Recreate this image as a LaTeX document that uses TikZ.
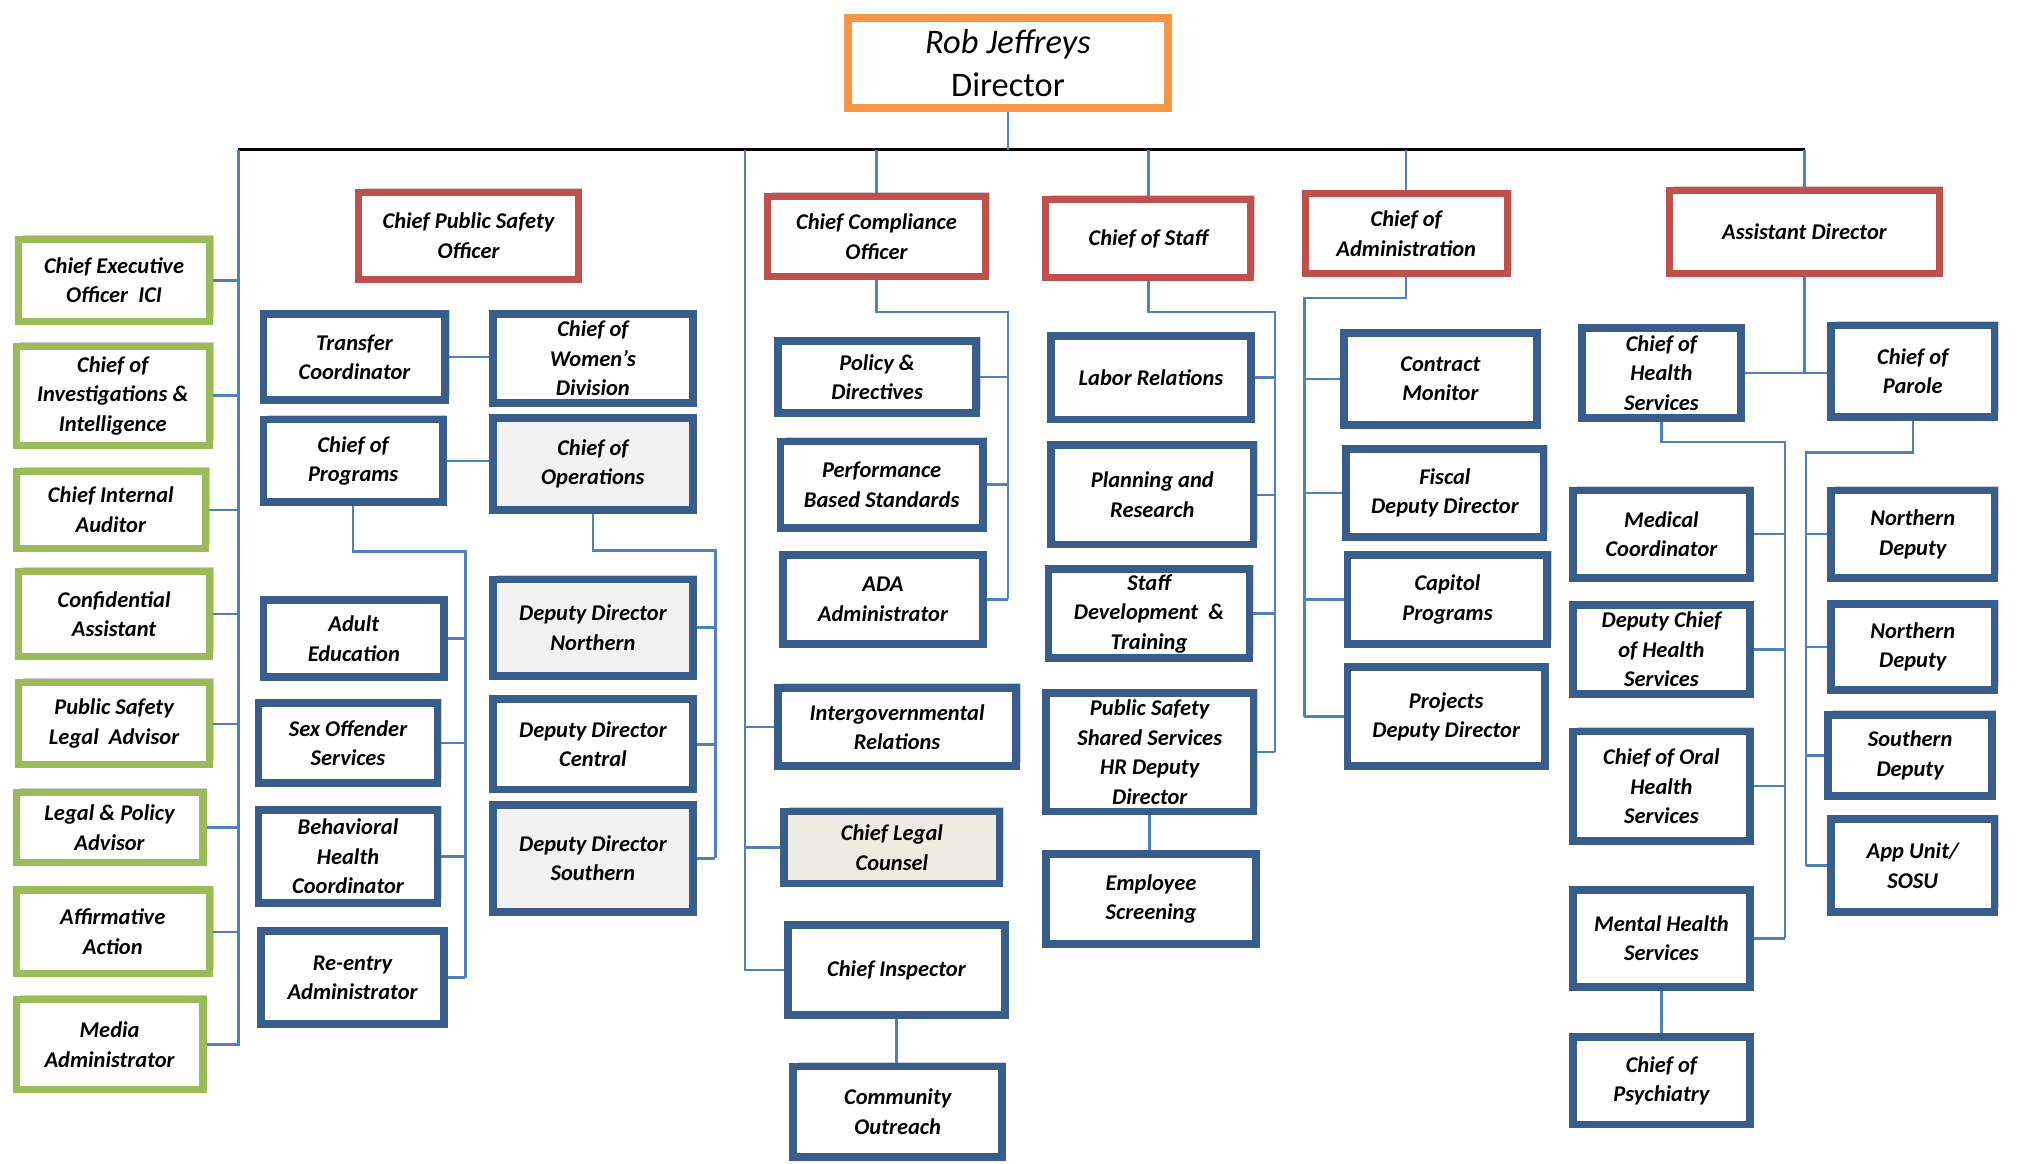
\documentclass[tikz,border=0pt]{standalone}
\usepackage{fontspec}
\setmainfont{Carlito}
\usetikzlibrary{shadows}

\definecolor{boxblue}{HTML}{385D8A}
\definecolor{boxred}{HTML}{C0504D}
\definecolor{boxgreen}{HTML}{9BBB59}
\definecolor{boxorange}{HTML}{F79646}
\definecolor{linkblue}{HTML}{4F81BD}
\definecolor{opsgray}{HTML}{F2F2F2}
\definecolor{legalbeige}{HTML}{EEECE1}

\newdimen\unitpx
\unitpx=0.012889cm

\begin{document}
\begin{tikzpicture} [x = 0.012889cm, y = -0.012889cm,
  box/.style = {draw, fill = white, line width = 2.2pt, align = center, inner sep = 1pt,
    font = \bfseries\itshape\fontsize{6.4}{8.4}\selectfont,
    drop shadow = {shadow xshift = 1.2pt, shadow yshift = 1.2pt, opacity = .35, fill = black!55}},
  bluebox/.style = {box, draw = boxblue},
  redbox/.style = {box, draw = boxred, line width = 2pt},
  greenbox/.style = {box, draw = boxgreen, line width = 2pt},
  sz/.style 2 args = {minimum width = #1\unitpx, minimum height = #2\unitpx},
  link/.style = {draw = linkblue, line width = 0.7pt},
  bar/.style = {draw = black, line width = 1.1pt}]
\useasboundingbox (0,0) rectangle (1568,903);

\node[box, draw = boxorange, sz = {248}{70}, font = \fontsize{9.8}{12}\selectfont] (dir) at (782,49) {\textit{Rob Jeffreys}\\Director};

\node[redbox, sz = {170}{67}] (cpso) at (363.5,183) {Chief Public Safety\\Officer};
\node[redbox, sz = {169}{62}] (cco) at (680,183.5) {Chief Compliance\\Officer};
\node[redbox, sz = {159}{61}] (cos) at (891,185) {Chief of Staff};
\node[redbox, sz = {157}{62}] (coa) at (1091,181.5) {Chief of\\Administration};
\node[redbox, sz = {209}{65}] (ad) at (1400,180) {Assistant Director};

\node[greenbox, sz = {148}{64}] (ceo) at (88.5,217.5) {Chief Executive\\Officer\ \ ICI};
\node[greenbox, sz = {150}{77}] (cii) at (87.5,307) {Chief of\\Investigations \&\\Intelligence};
\node[greenbox, sz = {147}{60}] (cia) at (86,395.5) {Chief Internal\\Auditor};
\node[greenbox, sz = {148}{66}] (ca) at (88.5,476.5) {Confidential\\Assistant};
\node[greenbox, sz = {148}{64}] (psla) at (88.5,561.5) {Public Safety\\Legal\ \ Advisor};
\node[greenbox, sz = {145}{55}] (lpa) at (85,642) {Legal \& Policy\\Advisor};
\node[greenbox, sz = {150}{65}] (aa) at (87.5,723) {Affirmative\\Action};
\node[greenbox, sz = {145}{70}] (media) at (85,810.5) {Media\\Administrator};

\node[bluebox, sz = {141}{67}] (transfer) at (275,277) {Transfer\\Coordinator};
\node[bluebox, sz = {139}{64}] (programs) at (274,357.5) {Chief of\\Programs};
\node[bluebox, sz = {140}{60}] (adulted) at (274.5,495.5) {Adult\\Education};
\node[bluebox, sz = {139}{62}] (sexoff) at (270,576.5) {Sex Offender\\Services};
\node[bluebox, sz = {139}{72}] (behav) at (270,664.5) {Behavioral\\Health\\Coordinator};
\node[bluebox, sz = {142}{72}] (reentry) at (273.5,758.5) {Re-entry\\Administrator};

\node[bluebox, sz = {155}{69}] (women) at (460,278) {Chief of\\Women’s\\Division};
\node[bluebox, sz = {155}{71}, fill = opsgray] (ops) at (460,360) {Chief of\\Operations};
\node[bluebox, sz = {155}{75}, fill = opsgray] (ddnorth) at (460,487) {Deputy Director\\Northern};
\node[bluebox, sz = {155}{70}] (ddcentral) at (460,577.5) {Deputy Director\\Central};
\node[bluebox, sz = {155}{83}, fill = opsgray] (ddsouth) at (460,666) {Deputy Director\\Southern};

\node[bluebox, sz = {154}{56}] (policy) at (680.5,292.5) {Policy \&\\Directives};
\node[bluebox, sz = {157}{67}] (pbs) at (684,376) {Performance\\Based Standards};
\node[bluebox, sz = {155}{69}] (ada) at (685,465) {ADA\\Administrator};
\node[bluebox, sz = {185}{61}] (intergov) at (696,564) {Intergovernmental\\Relations};
\node[bluebox, sz = {167}{56}, fill = legalbeige] (legal) at (692,657.5) {Chief Legal\\Counsel};
\node[bluebox, sz = {168}{70}] (inspector) at (695.5,752.5) {Chief Inspector};
\node[bluebox, sz = {162}{70}] (outreach) at (696.5,862.5) {Community\\Outreach};

\node[bluebox, sz = {155}{65}] (labor) at (893,293) {Labor Relations};
\node[bluebox, sz = {157}{77}] (planning) at (894,384) {Planning and\\Research};
\node[bluebox, sz = {156}{69}] (staffdev) at (891.5,476) {Staff\\Development\ \ \&\\Training};
\node[bluebox, sz = {161}{92}] (psss) at (892,583.5) {Public Safety\\Shared Services\\HR Deputy\\Director};
\node[bluebox, sz = {163}{70}] (screening) at (893,697.5) {Employee\\Screening};

\node[bluebox, sz = {150}{71}] (contract) at (1117.5,294) {Contract\\Monitor};
\node[bluebox, sz = {153}{68}] (fiscal) at (1121,382.5) {Fiscal\\Deputy Director};
\node[bluebox, sz = {155}{69}] (capitol) at (1123,465) {Capitol\\Programs};
\node[bluebox, sz = {153}{77}] (projects) at (1122,556) {Projects\\Deputy Director};

\node[bluebox, sz = {123}{70}] (chs) at (1289,289.5) {Chief of\\Health\\Services};
\node[bluebox, sz = {137}{68}] (medical) at (1289,414.5) {Medical\\Coordinator};
\node[bluebox, sz = {137}{69}] (dchs) at (1289,504) {Deputy Chief\\of Health\\Services};
\node[bluebox, sz = {137}{85}] (oral) at (1289,610) {Chief of Oral\\Health\\Services};
\node[bluebox, sz = {137}{75}] (mental) at (1289,728) {Mental Health\\Services};
\node[bluebox, sz = {137}{68}] (psych) at (1289,838.5) {Chief of\\Psychiatry};

\node[bluebox, sz = {127}{71}] (parole) at (1484,288) {Chief of\\Parole};
\node[bluebox, sz = {127}{68}] (northa) at (1484,414.5) {Northern\\Deputy};
\node[bluebox, sz = {127}{67}] (northb) at (1484,502) {Northern\\Deputy};
\node[bluebox, sz = {127}{63}] (south) at (1482,586) {Southern\\Deputy};
\node[bluebox, sz = {127}{72}] (appunit) at (1484,671.5) {App Unit/\\SOSU};

\coordinate (busL) at (185,116);
\coordinate (busR) at (1400,116);
\coordinate (compL) at (578,116);
\coordinate (ccoR) at (782,242);
\coordinate (progR) at (361,428);
\coordinate (opsR) at (555,427);
\coordinate (cosR) at (989,242);
\coordinate (coaL) at (1012,231);
\coordinate (chsR) at (1385,343);
\coordinate (paroleL) at (1401,351);

\draw[bar] (busL) -- (busR);
\draw[link] (dir.south) -- (dir.south |- busL);
\draw[link] (cco.north) -- (cco.north |- busL);
\draw[link] (cos.north) -- (cos.north |- busL);
\draw[link] (coa.north) -- (coa.north |- busL);
\draw[link] (ad.north) -- (ad.north |- busL);

\draw[link] (busL) |- (media.east);
\draw[link] (ceo.east) -- (ceo.east -| busL);
\draw[link] (cii.east) -- (cii.east -| busL);
\draw[link] (cia.east) -- (cia.east -| busL);
\draw[link] (ca.east) -- (ca.east -| busL);
\draw[link] (psla.east) -- (psla.east -| busL);
\draw[link] (lpa.east) -- (lpa.east -| busL);
\draw[link] (aa.east) -- (aa.east -| busL);

\draw[link] (transfer.east) -- (transfer.east -| women.west);
\draw[link] (programs.east) -- (programs.east -| ops.west);
\draw[link] (programs.south) |- (progR) -- (progR |- reentry.east);
\draw[link] (adulted.east) -- (adulted.east -| progR);
\draw[link] (sexoff.east) -- (sexoff.east -| progR);
\draw[link] (behav.east) -- (behav.east -| progR);
\draw[link] (reentry.east) -- (reentry.east -| progR);
\draw[link] (ops.south) |- (opsR) -- (opsR |- ddsouth.east);
\draw[link] (ddnorth.east) -- (ddnorth.east -| opsR);
\draw[link] (ddcentral.east) -- (ddcentral.east -| opsR);
\draw[link] (ddsouth.east) -- (ddsouth.east -| opsR);

\draw[link] (cco.south) |- (ccoR) -- (ccoR |- ada.east);
\draw[link] (policy.east) -- (policy.east -| ccoR);
\draw[link] (pbs.east) -- (pbs.east -| ccoR);
\draw[link] (ada.east) -- (ada.east -| ccoR);
\draw[link] (compL) |- (inspector.west);
\draw[link] (intergov.west) -- (intergov.west -| compL);
\draw[link] (legal.west) -- (legal.west -| compL);
\draw[link] (inspector.south) -- (inspector.south |- outreach.north);

\draw[link] (cos.south) |- (cosR) -- (cosR |- psss.east);
\draw[link] (labor.east) -- (labor.east -| cosR);
\draw[link] (planning.east) -- (planning.east -| cosR);
\draw[link] (staffdev.east) -- (staffdev.east -| cosR);
\draw[link] (psss.east) -- (psss.east -| cosR);
\draw[link] (psss.south) -- (psss.south |- screening.north);

\draw[link] (coa.south) |- (coaL) -- (coaL |- projects.west);
\draw[link] (contract.west) -- (contract.west -| coaL);
\draw[link] (fiscal.west) -- (fiscal.west -| coaL);
\draw[link] (capitol.west) -- (capitol.west -| coaL);
\draw[link] (projects.west) -- (projects.west -| coaL);

\draw[link] (ad.south) -- (ad.south |- chs.east);
\draw[link] (chs.east) -- (chs.east -| parole.west);
\draw[link] (chs.south) |- (chsR) -- (chsR |- mental.east);
\draw[link] (medical.east) -- (medical.east -| chsR);
\draw[link] (dchs.east) -- (dchs.east -| chsR);
\draw[link] (oral.east) -- (oral.east -| chsR);
\draw[link] (mental.east) -- (mental.east -| chsR);
\draw[link] (mental.south) -- (mental.south |- psych.north);

\draw[link] (parole.south) |- (paroleL) -- (paroleL |- appunit.west);
\draw[link] (northa.west) -- (northa.west -| paroleL);
\draw[link] (northb.west) -- (northb.west -| paroleL);
\draw[link] (south.west) -- (south.west -| paroleL);
\draw[link] (appunit.west) -- (appunit.west -| paroleL);
\end{tikzpicture}
\end{document}
